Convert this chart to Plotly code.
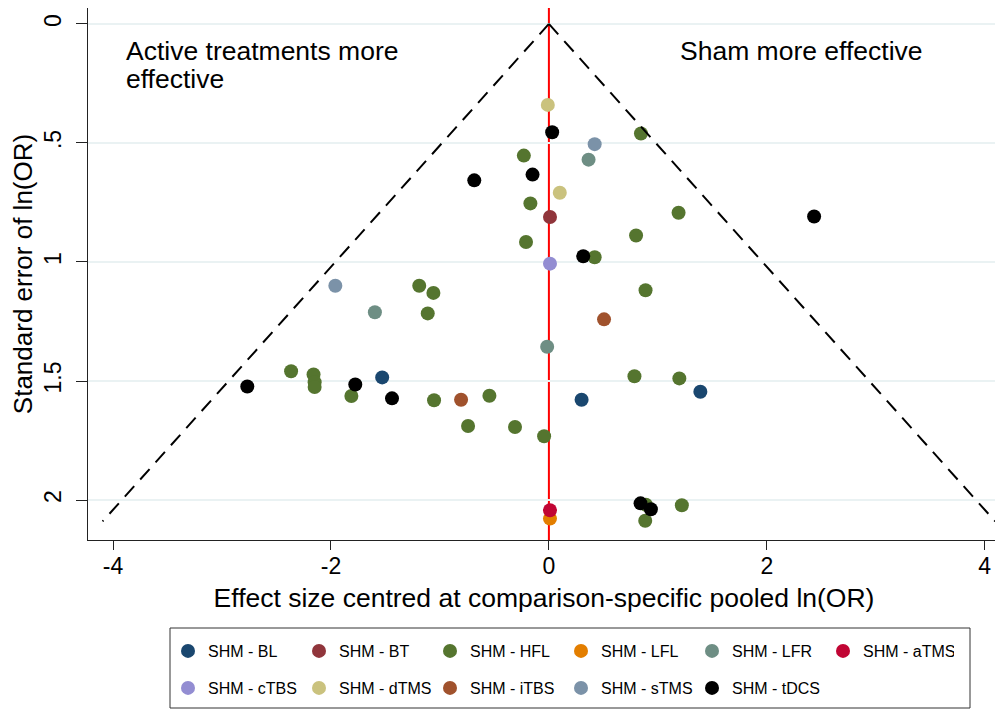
import plotly.graph_objects as go

# ---- data ----
groups = ["SHM - BL", "SHM - BT", "SHM - HFL", "SHM - LFL", "SHM - LFR", "SHM - aTMS",
          "SHM - cTBS", "SHM - dTMS", "SHM - iTBS", "SHM - sTMS", "SHM - tDCS"]
colors = ["#1a476f", "#90353b", "#55752f", "#e37e00", "#6e8e84", "#c10534",
          "#938dd2", "#cac27e", "#a0522d", "#7b92a8", "#000000"]

bl_x = [-1.53, 0.30, 1.39]
bl_y = [1.485, 1.579, 1.545]
bt_x = [0.01]
bt_y = [0.811]
hfl_x = [0.845, -0.23, -0.17, 1.19, 0.80, -0.21, 0.42, -1.19, -1.06, 0.887, -1.112,
         -2.366, -2.16, -2.15, -2.15, -1.813, -1.054, -0.546, -0.742, -0.311, -0.044,
         0.785, 1.197, 0.89, 0.884, 1.22]
hfl_y = [0.46, 0.553, 0.754, 0.793, 0.889, 0.916, 0.98, 1.10, 1.13, 1.119, 1.216,
         1.459, 1.473, 1.505, 1.525, 1.563, 1.581, 1.562, 1.689, 1.693, 1.732,
         1.48, 1.489, 2.02, 2.087, 2.022]
lfl_x = [0.01]
lfl_y = [2.078]
lfr_x = [0.364, -1.597, -0.016]
lfr_y = [0.57, 1.211, 1.356]
atms_x = [0.01]
atms_y = [2.043]
ctbs_x = [0.01]
ctbs_y = [1.007]
dtms_x = [-0.01, 0.10]
dtms_y = [0.34, 0.709]
itbs_x = [0.506, -0.806]
itbs_y = [1.241, 1.579]
stms_x = [0.42, -1.96]
stms_y = [0.505, 1.10]
tdcs_x = [0.03, -0.15, -0.685, 0.315, 2.434, -2.768, -1.777, -1.44, 0.841, 0.936]
tdcs_y = [0.455, 0.633, 0.657, 0.976, 0.809, 1.523, 1.515, 1.573, 2.014, 2.039]

series_x = [bl_x, bt_x, hfl_x, lfl_x, lfr_x, atms_x, ctbs_x, dtms_x, itbs_x, stms_x, tdcs_x]
series_y = [bl_y, bt_y, hfl_y, lfl_y, lfr_y, atms_y, ctbs_y, dtms_y, itbs_y, stms_y, tdcs_y]

funnel_se = [0, 2.09]
z = 1.96

y_ticks = [0, 0.5, 1, 1.5, 2]
y_ticktext = ["0", ".5", "1", "1.5", "2"]
x_ticks = [-4, -2, 0, 2, 4]
x_ticktext = ["-4", "-2", "0", "2", "4"]

FONT = "Liberation Sans, Arial, sans-serif"

fig = go.Figure()
for i, (name, col, xs, ys) in enumerate(zip(groups, colors, series_x, series_y)):
    fig.add_trace(go.Scatter(
        x=xs, y=ys, mode="markers", name=name,
        marker=dict(color=col, size=14, line=dict(width=0)),
        legend="legend" if i < 6 else "legend2",
    ))

# funnel (pseudo 95% CI) lines
fig.add_trace(go.Scatter(x=[-z * s for s in funnel_se], y=funnel_se, mode="lines",
                         line=dict(color="black", width=2, dash="14px,9px"),
                         showlegend=False, hoverinfo="skip"))
fig.add_trace(go.Scatter(x=[z * s for s in funnel_se], y=funnel_se, mode="lines",
                         line=dict(color="black", width=2, dash="14px,9px"),
                         showlegend=False, hoverinfo="skip"))

# red line at 0
fig.add_shape(type="line", xref="x", yref="paper", x0=0, x1=0, y0=0, y1=1,
              line=dict(color="red", width=2), layer="below")

# helpers: screen pixel -> paper coordinate (plot area spans 88..1000 x 8..540 on screen)
def px_x(p):
    return (p - 88) / 912
def px_y(p):
    return (540 - p) / 532

fig.add_shape(type="rect", xref="paper", yref="paper",
              x0=px_x(170), x1=px_x(970), y0=px_y(628), y1=px_y(708),
              line=dict(color="#333333", width=1), fillcolor="rgba(0,0,0,0)")

ann_font = dict(family=FONT, size=26.5, color="black")
fig.add_annotation(text="Active treatments more", xref="paper", yref="paper",
                   x=px_x(124), y=px_y(51), xanchor="left", yanchor="middle",
                   showarrow=False, font=ann_font)
fig.add_annotation(text="effective", xref="paper", yref="paper",
                   x=px_x(124), y=px_y(79), xanchor="left", yanchor="middle",
                   showarrow=False, font=ann_font)
fig.add_annotation(text="Sham more effective", xref="paper", yref="paper",
                   x=px_x(678), y=px_y(51), xanchor="left", yanchor="middle",
                   showarrow=False, font=ann_font)

legend_common = dict(orientation="h", bgcolor="rgba(0,0,0,0)", borderwidth=0,
                     font=dict(family=FONT, size=16, color="black"),
                     entrywidth=86, entrywidthmode="pixels",
                     xanchor="left", yanchor="middle", itemclick=False)

fig.update_layout(
    width=995, height=703,
    margin=dict(l=80, r=3, t=0, b=171, autoexpand=False),
    paper_bgcolor="white", plot_bgcolor="white",
    font=dict(family=FONT, color="black"),
    showlegend=True,
    legend=dict(x=px_x(168), y=px_y(651), **legend_common),
    legend2=dict(x=px_x(168), y=px_y(688), **legend_common),
    xaxis=dict(range=[-4.23, 4.14], tickvals=x_ticks, ticktext=x_ticktext,
               showgrid=False, zeroline=False, automargin=False,
               showline=True, linecolor="#222222", linewidth=1.2,
               ticks="outside", ticklen=9, tickcolor="#222222",
               ticklabelstandoff=-4,
               tickfont=dict(family=FONT, size=23),
               title=dict(text="Effect size centred at comparison-specific pooled ln(OR)",
                          font=dict(family=FONT, size=26.5), standoff=10)),
    yaxis=dict(range=[2.168, -0.067], tickvals=y_ticks, ticktext=y_ticktext,
               tickangle=-90, showgrid=True, gridcolor="#eaf2f3", gridwidth=2,
               zeroline=False, showline=True, linecolor="#222222", linewidth=1.2,
               automargin=False,
               ticks="outside", ticklen=11, tickcolor="#222222",
               ticklabelstandoff=6,
               tickfont=dict(family=FONT, size=23),
               title=dict(text="Standard error of ln(OR)",
                          font=dict(family=FONT, size=26), standoff=11)),
)

fig.write_html("out.html")
